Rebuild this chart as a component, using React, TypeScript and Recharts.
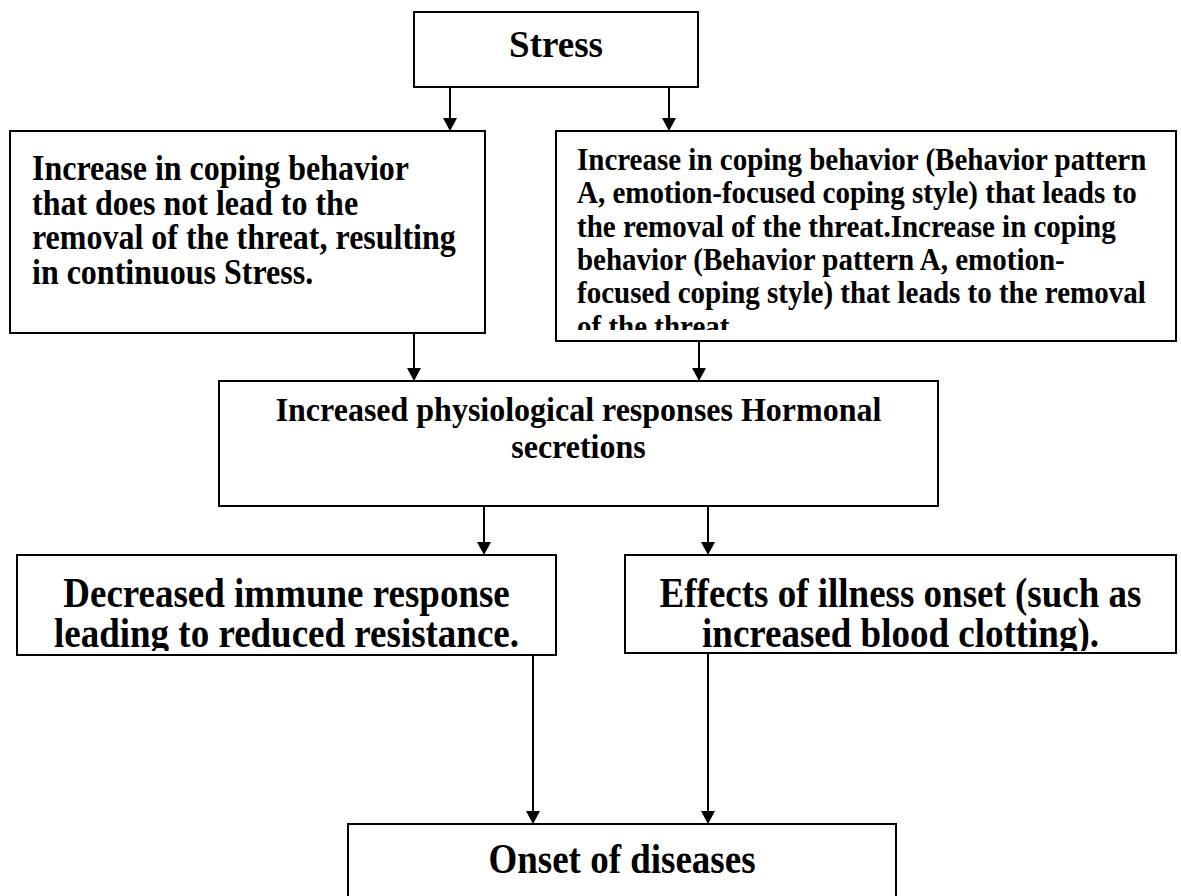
import { ScatterChart, Scatter, XAxis, YAxis, ReferenceLine } from "recharts";

// text of each box, line by line as it is broken in the figure
const stressLines = ["Stress"];
const unresolvedCopingLines = [
	"Increase in coping behavior",
	"that does not lead to the",
	"removal of the threat, resulting",
	"in continuous Stress.",
];
const typeACopingLines = [
	"Increase in coping behavior (Behavior pattern",
	"A, emotion-focused coping style) that leads to",
	"the removal of the threat.Increase in coping",
	"behavior (Behavior pattern A, emotion-",
	"focused coping style) that leads to the removal",
	"of the threat.",
];
const physiologyLines = ["Increased physiological responses Hormonal", "secretions"];
const immuneLines = ["Decreased immune response", "leading to reduced resistance."];
const illnessLines = ["Effects of illness onset (such as", "increased blood clotting)."];
const onsetLines = ["Onset of diseases"];

// which box points to which, and at what x the arrow runs
const links = [
	{ from: "stress", to: "unresolved", x: 450 },
	{ from: "stress", to: "typeA", x: 669 },
	{ from: "unresolved", to: "physiology", x: 414 },
	{ from: "typeA", to: "physiology", x: 699 },
	{ from: "physiology", to: "immune", x: 484 },
	{ from: "physiology", to: "illness", x: 708 },
	{ from: "immune", to: "onset", x: 533 },
	{ from: "illness", to: "onset", x: 708 },
];

const W = 1181;
const H = 896;

// page layout of the boxes (chart units == pixels); sy = vertical stretch of the glyphs
const boxes = [
	{ id: "stress", lines: stressLines, x: 414, y: 12, w: 284, h: 75, fontSize: 37, sy: 1, align: "middle", pad: 0, baseline: 45, lineHeight: 0, clipH: 75 },
	{ id: "unresolved", lines: unresolvedCopingLines, x: 10, y: 131, w: 475, h: 202, fontSize: 32, sy: 1.1, align: "start", pad: 22, baseline: 49, lineHeight: 34.5, clipH: 202 },
	{ id: "typeA", lines: typeACopingLines, x: 556, y: 131, w: 620, h: 210, fontSize: 29, sy: 1.08, align: "start", pad: 21, baseline: 39, lineHeight: 33.3, clipH: 199 },
	{ id: "physiology", lines: physiologyLines, x: 219, y: 381, w: 719, h: 125, fontSize: 32, sy: 1.05, align: "middle", pad: 0, baseline: 40, lineHeight: 37, clipH: 125 },
	{ id: "immune", lines: immuneLines, x: 17, y: 555, w: 539, h: 100, fontSize: 37, sy: 1.12, align: "middle", pad: 0, baseline: 52, lineHeight: 40, clipH: 96 },
	{ id: "illness", lines: illnessLines, x: 625, y: 555, w: 551, h: 98, fontSize: 37, sy: 1.12, align: "middle", pad: 0, baseline: 52, lineHeight: 40, clipH: 96 },
	{ id: "onset", lines: onsetLines, x: 348, y: 824, w: 548, h: 95, fontSize: 37, sy: 1.12, align: "middle", pad: 0, baseline: 49, lineHeight: 0, clipH: 95 },
];

const nodeData = boxes.map((b) => ({ ...b, cx: b.x + b.w / 2, cy: b.y + b.h / 2 }));

const byId = Object.fromEntries(boxes.map((b) => [b.id, b]));

function BoxShape(props: any) {
	const { cx, cy, payload } = props;
	const b = payload;
	const left = cx - b.w / 2;
	const top = cy - b.h / 2;
	const clipId = `clip-${b.id}`;
	const tx = b.align === "start" ? left + b.pad : cx;
	return (
		<g>
			<defs>
				<clipPath id={clipId}>
					<rect x={left} y={top} width={b.w} height={b.clipH} />
				</clipPath>
			</defs>
			<rect x={left} y={top} width={b.w} height={b.h} fill="#fff" stroke="#000" strokeWidth={2} />
			<g clipPath={`url(#${clipId})`}>
				{b.lines.map((line: string, i: number) => (
					<text
						key={i}
						transform={`translate(${tx},${top + b.baseline + i * b.lineHeight}) scale(1,${b.sy})`}
						x={0}
						y={0}
						fontFamily="'Liberation Serif', 'Times New Roman', serif"
						fontWeight="bold"
						fontSize={b.fontSize}
						textAnchor={b.align}
						fill="#000"
					>
						{line}
					</text>
				))}
			</g>
		</g>
	);
}

function ArrowShape(props: any) {
	const { x1, y1, x2, y2 } = props;
	return (
		<g>
			<line x1={x1} y1={y1} x2={x2} y2={y2 - 10} stroke="#000" strokeWidth={2} />
			<polygon points={`${x2 - 7},${y2 - 13} ${x2 + 7},${y2 - 13} ${x2},${y2}`} fill="#000" />
		</g>
	);
}

export default function App() {
	return (
		<div style={{ position: "absolute", left: 0, top: 0, width: W, height: H, background: "#fff" }}>
			<ScatterChart width={W} height={H} margin={{ top: 0, right: 0, bottom: 0, left: 0 }}>
				<XAxis type="number" dataKey="cx" domain={[0, W]} hide allowDataOverflow />
				<YAxis type="number" dataKey="cy" domain={[0, H]} reversed hide allowDataOverflow />
				<Scatter data={nodeData} shape={<BoxShape />} isAnimationActive={false} />
				{links.map((l, i) => {
					const a = byId[l.from];
					const b = byId[l.to];
					return (
						<ReferenceLine
							key={i}
							segment={[
								{ x: l.x, y: a.y + a.h },
								{ x: l.x, y: b.y },
							]}
							ifOverflow="visible"
							shape={(p: any) => <ArrowShape {...p} />}
						/>
					);
				})}
			</ScatterChart>
		</div>
	);
}
